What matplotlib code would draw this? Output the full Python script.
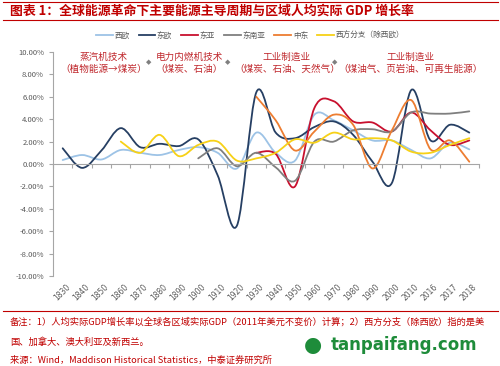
import numpy as np
import matplotlib.pyplot as plt
from matplotlib.path import Path
from matplotlib.patches import PathPatch
from matplotlib.lines import Line2D

plt.rcParams['font.family'] = ['Noto Sans CJK SC', 'DejaVu Sans']

years = ['1830', '1840', '1850', '1860', '1870', '1880', '1890', '1900', '1910', '1920',
         '1930', '1940', '1950', '1960', '1970', '1980', '1990', '2000', '2010', '2016',
         '2017', '2018']

N = None
w_eu = [0.35, 0.8, 0.4, 1.25, 1.0, 0.8, 1.25, 1.5, 1.0, -0.4, 2.8, 1.0, 0.3, 4.4,
        3.9, 3.0, 2.1, 2.1, 1.25, 0.5, 1.9, 1.3]
e_eu = [1.4, -0.35, 1.2, 3.2, 1.5, 1.8, 1.6, 2.2, -1.0, -5.5, 6.4, 2.8, 2.3, 3.3,
        3.8, 2.6, 0.2, -1.7, 6.6, 2.1, 3.5, 2.8]
e_asia = [N] * 10 + [1.0, 0.9, -2.0, 5.0, 5.6, 3.8, 3.7, 2.9, 4.6, 3.0, 1.7, 2.1]
se_asia = [N] * 7 + [0.5, 1.4, -0.2, 1.0, -0.3, -1.5, 2.0, 2.0, 3.0, 3.1, 2.9, 4.6,
                     4.5, 4.5, 4.7]
mideast = [N] * 10 + [6.0, 3.9, 1.2, 2.9, 4.4, 3.5, -0.4, 3.0, 5.7, 1.3, 2.1, 0.2]
west_off = [N] * 3 + [2.0, 1.0, 2.6, 0.7, 1.7, 2.0, 0.3, 0.5, 1.0, 2.2, 1.9, 2.8,
                      2.2, 2.3, 2.1, 1.1, 1.0, 1.7, 2.3]

names = ['西欧', '东欧', '东亚', '东南亚', '中东', '西方分支（除西欧）']
series = [w_eu, e_eu, e_asia, se_asia, mideast, west_off]
colors = ['#9DC3E6', '#263F63', '#C8102E', '#7F7F7F', '#ED7D31', '#F7D117']

eras = [('蒸汽机技术', '（植物能源→煤炭）'),
        ('电力内燃机技术', '（煤炭、石油）'),
        ('工业制造业', '（煤炭、石油、天然气）'),
        ('工业制造业', '（煤油气、页岩油、可再生能源）')]


def smooth_path(xs, ys):
    # excel-style smoothed line: catmull-rom segments as cubic beziers
    p = np.column_stack([xs, ys]).astype(float)
    verts = [p[0]]
    codes = [Path.MOVETO]
    n = len(p)
    for i in range(n - 1):
        p0 = p[i - 1] if i > 0 else p[i]
        p3 = p[i + 2] if i + 2 < n else p[i + 1]
        c1 = p[i] + (p[i + 1] - p0) / 6
        c2 = p[i + 1] - (p3 - p[i]) / 6
        verts += [c1, c2, p[i + 1]]
        codes += [Path.CURVE4] * 3
    return Path(verts, codes)


fig = plt.figure(figsize=(5, 3.66), dpi=100)
ax = fig.add_axes([0.106, 0.246, 0.852, 0.612])

for vals, c in zip(series, colors):
    idx = [i for i, v in enumerate(vals) if v is not None]
    ys = [vals[i] for i in idx]
    ax.add_patch(PathPatch(smooth_path(idx, ys), fill=False, edgecolor=c, lw=1.3,
                           capstyle='round', joinstyle='round'))

ax.set_xlim(-0.5, len(years) - 0.5)
ax.set_ylim(-10, 10)
ax.set_yticks(np.arange(-10, 10.1, 2))
ax.set_yticklabels(['%.2f%%' % v for v in np.arange(-10, 10.1, 2)])
ax.set_xticks(np.arange(-0.5, len(years)))
ax.set_xticklabels([])
for s in ['top', 'right']:
    ax.spines[s].set_visible(False)
ax.spines['bottom'].set_position(('data', 0))
ax.spines['left'].set_color('#A6A6A6')
ax.spines['bottom'].set_color('#A6A6A6')
ax.tick_params(axis='both', colors='#A6A6A6', labelcolor='#595959', labelsize=5.5,
               length=3, width=0.8)
for i, lab in enumerate(years):
    ax.text(i + 0.15, -10.6, lab, rotation=45, ha='right', va='top',
            rotation_mode='anchor', fontsize=5.5, color='#595959', family='DejaVu Sans')

# era annotations
era_x = [104, 189, 287, 411]
for (a, b), x in zip(eras, era_x):
    fig.text(x / 500, 1 - 57 / 366, a, ha='center', va='center', fontsize=6.9,
             color='#C0282D')
    fig.text(x / 500, 1 - 69 / 366, b, ha='center', va='center', fontsize=6.9,
             color='#C0282D')
for x in [149, 228, 335]:
    fig.text(x / 500, 1 - 62 / 366, '◆', ha='center', va='center', fontsize=5,
             color='#7F7F7F', family='DejaVu Sans')

handles = [Line2D([], [], color=c, lw=1.3) for c in colors]
fig.legend(handles, names, loc='center', bbox_to_anchor=(0.5, 1 - 36 / 366), ncol=6,
           frameon=False, fontsize=5.5, handlelength=2.2, handletextpad=0.2,
           columnspacing=1.2, labelcolor='#595959')

# title with red rules
fig.add_artist(Line2D([0.005, 0.995], [1 - 1.5 / 366] * 2, color='#C00000', lw=0.8))
fig.add_artist(Line2D([0.005, 0.995], [1 - 19.5 / 366] * 2, color='#C00000', lw=0.8))
fig.text(10 / 500, 1 - 11 / 366, '图表 1：全球能源革命下主要能源主导周期与区域人均实际 GDP 增长率',
         ha='left', va='center', fontsize=9.3, fontweight='bold', color='#C00000')

# footer
fig.add_artist(Line2D([0.005, 0.995], [1 - 311 / 366] * 2, color='#C00000', lw=0.8))
fig.text(10 / 500, 1 - 322 / 366,
         '备注：1）人均实际GDP增长率以全球各区域实际GDP（2011年美元不变价）计算；2）西方分支（除西欧）指的是美',
         ha='left', va='center', fontsize=6.7, color='#C00000')
fig.text(10 / 500, 1 - 342 / 366, '国、加拿大、澳大利亚及新西兰。',
         ha='left', va='center', fontsize=6.7, color='#C00000')
fig.text(10 / 500, 1 - 360 / 366, '来源：Wind，Maddison Historical Statistics，中泰证券研究所',
         ha='left', va='center', fontsize=6.7, color='#C00000')

# watermark
fig.text(313 / 500, 1 - 345 / 366, '●', ha='center', va='center', fontsize=15,
         color='#1E8C3A', family='DejaVu Sans')
fig.text(331 / 500, 1 - 345 / 366, 'tanpaifang.com', ha='left', va='center',
         fontsize=12, fontweight='bold', color='#1E8C3A', family='DejaVu Sans')

fig.savefig('out.png', dpi=100)
